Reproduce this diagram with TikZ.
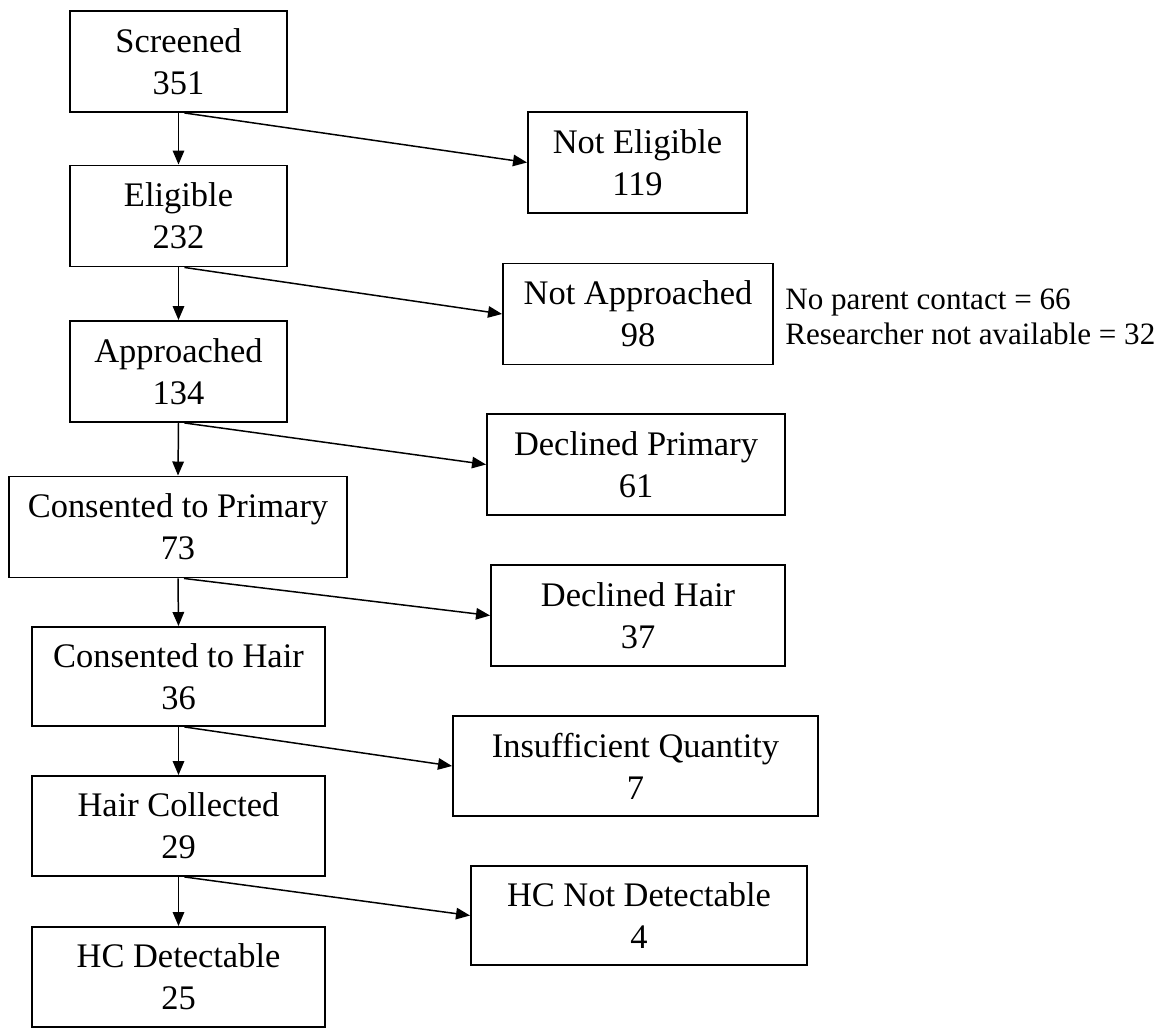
\documentclass[tikz,border=0pt]{standalone}
\usepackage{fontspec}
\setmainfont{Liberation Serif}
\usepackage{tikz}
\usetikzlibrary{arrows.meta,positioning}
\tikzset{
  % Flow stages (left column)
  stage/.style={draw=black,line width=1.1pt,fill=white,minimum height=2.02cm,
                align=center,inner sep=2pt,font=\fontsize{19.6}{23.9}\selectfont},
  % Exclusions (right column)
  excl/.style={stage},
  % Connectors & side note
  fl/.style={-{Triangle[length=2.8mm,width=2.3mm]},line width=0.85pt},
  note/.style={align=left,inner sep=0pt,anchor=west,
               font=\fontsize{17.7}{19.9}\selectfont}
}

\begin{document}
\begin{tikzpicture}
  \useasboundingbox (0,0) rectangle (23.52,-20.56);

  % Main flow
  \node[stage,minimum width=4.34cm] (s1) at (3.57,-1.23)  {Screened\\351};
  \node[stage,minimum width=4.34cm] (s2) at (3.57,-4.32)  {Eligible\\232};
  \node[stage,minimum width=4.34cm] (s3) at (3.57,-7.43)  {Approached\\134};
  \node[stage,minimum width=6.76cm] (s4) at (3.56,-10.54) {Consented to Primary\\73};
  \node[stage,minimum width=5.86cm,minimum height=1.98cm] (s5) at (3.57,-13.53) {Consented to Hair\\36};
  \node[stage,minimum width=5.86cm,minimum height=2.0cm]  (s6) at (3.57,-16.52) {Hair Collected\\29};
  \node[stage,minimum width=5.86cm,minimum height=2.0cm]  (s7) at (3.57,-19.54) {HC Detectable\\25};

  % Exclusions
  \node[excl,minimum width=4.38cm] (x1) at (12.75,-3.25)  {Not Eligible\\119};
  \node[excl,minimum width=5.40cm] (x2) at (12.76,-6.28)  {Not Approached\\98};
  \node[excl,minimum width=5.96cm] (x3) at (12.72,-9.29)  {Declined Primary\\61};
  \node[excl,minimum width=5.88cm] (x4) at (12.76,-12.31) {Declined Hair\\37};
  \node[excl,minimum width=7.30cm,minimum height=2.0cm]  (x5) at (12.71,-15.32) {Insufficient Quantity\\7};
  \node[excl,minimum width=6.72cm,minimum height=1.98cm] (x6) at (12.78,-18.31) {HC Not Detectable\\4};

  \node[note] (n2) at (15.70,-6.33) {No parent contact = 66\\Researcher not available = 32};

  % Downward steps
  \draw[fl] (s1.south) -- (s2.north);
  \draw[fl] (s2.south) -- (s3.north);
  \draw[fl] (s3.south) -- (s4.north);
  \draw[fl] (s4.south) -- (s5.north);
  \draw[fl] (s5.south) -- (s6.north);
  \draw[fl] (s6.south) -- (s7.north);

  % Side exits
  \draw[fl] ([xshift=1.2mm]s1.south) -- (x1.west);
  \draw[fl] ([xshift=1.2mm]s2.south) -- (x2.west);
  \draw[fl] ([xshift=1.2mm]s3.south) -- (x3.west);
  \draw[fl] ([xshift=1.2mm]s4.south) -- (x4.west);
  \draw[fl] ([xshift=1.2mm]s5.south) -- (x5.west);
  \draw[fl] ([xshift=1.2mm]s6.south) -- (x6.west);
\end{tikzpicture}
\end{document}
